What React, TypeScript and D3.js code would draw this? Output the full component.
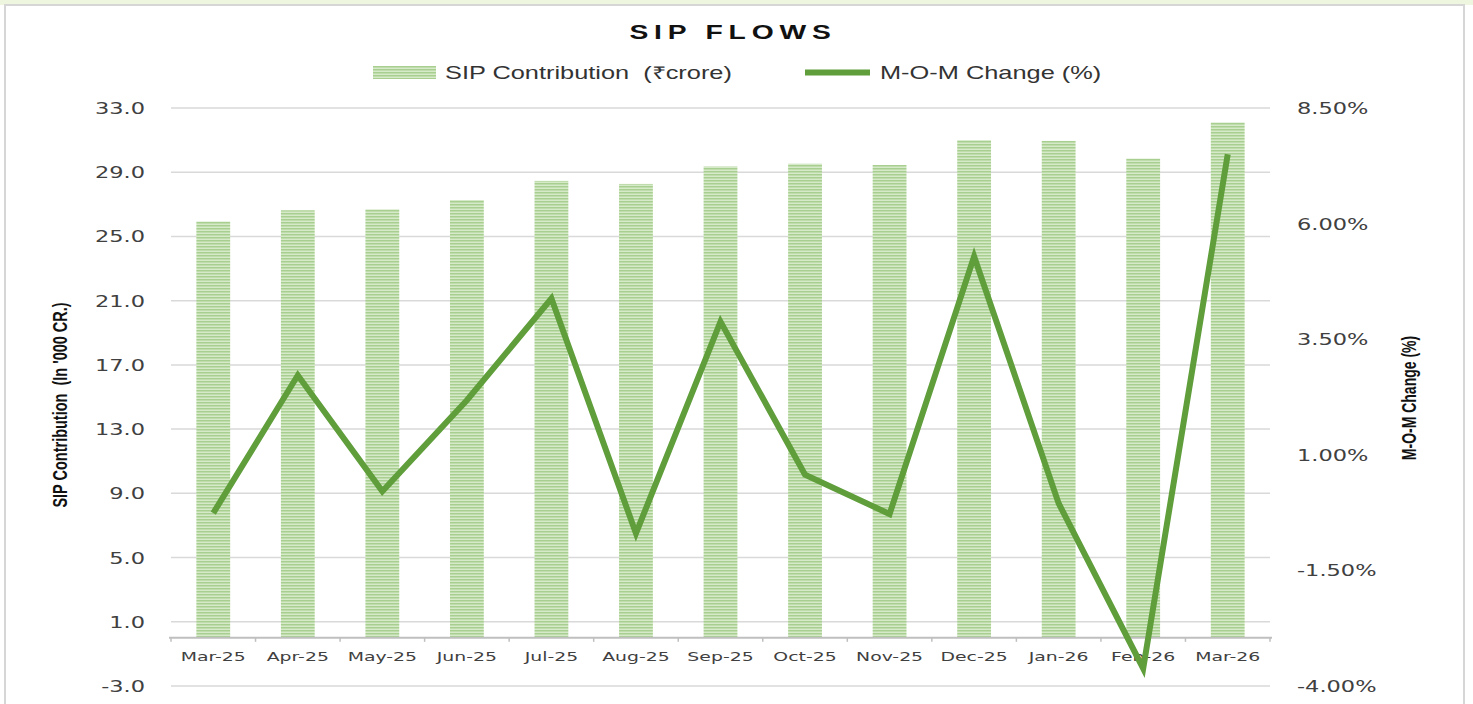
import React, { useEffect, useRef } from 'react';
import * as d3 from 'd3';

const months = ['Mar-25', 'Apr-25', 'May-25', 'Jun-25', 'Jul-25', 'Aug-25', 'Sep-25', 'Oct-25', 'Nov-25', 'Dec-25', 'Jan-26', 'Feb-26', 'Mar-26'];
const sipContribution = [25.93, 26.63, 26.69, 27.27, 28.46, 28.27, 29.36, 29.53, 29.45, 31.0, 30.95, 29.85, 32.1];
const momChange = [-0.26, 2.72, 0.21, 2.18, 4.38, -0.7, 3.88, 0.57, -0.28, 5.29, -0.05, -3.62, 7.5];
const leftTicks = [-3, 1, 5, 9, 13, 17, 21, 25, 29, 33];
const rightTicks = [-4, -1.5, 1, 3.5, 6, 8.5];

const W = 1473;
const H = 704;
const SX = 1.45; // the picture is stretched sideways, so text glyphs are too

export default function App() {
  const svgRef = useRef<SVGSVGElement>(null);

  useEffect(() => {
    const svg = d3.select(svgRef.current);
    svg.selectAll('*').remove();

    const left = 171;
    const right = 1270;
    const top = 108;
    const bottom = 686;

    // frame
    svg.append('rect').attr('x', 0).attr('y', 0).attr('width', W).attr('height', 5).attr('fill', '#eef6df');
    svg.append('rect').attr('x', 5).attr('y', 5).attr('width', 1459).attr('height', H + 10)
      .attr('fill', '#fff').attr('stroke', '#d6d6d6').attr('stroke-width', 2);

    // stripe pattern for the bars
    const defs = svg.append('defs');
    const pat = defs.append('pattern').attr('id', 'stripes').attr('patternUnits', 'userSpaceOnUse')
      .attr('width', 8).attr('height', 3);
    pat.append('rect').attr('width', 8).attr('height', 3).attr('fill', '#d6eac9');
    pat.append('rect').attr('width', 8).attr('height', 1.5).attr('fill', '#a8cf90');

    const x = d3.scaleBand<string>().domain(months).range([left, right]).paddingInner(0.6).paddingOuter(0.3);
    const step = x.step();
    const yL = d3.scaleLinear().domain([-3, 33]).range([bottom, top]);
    const yR = d3.scaleLinear().domain([-4, 8.5]).range([bottom, top]);

    const txt = (g: any, tx: number, ty: number, s: string, rot = 0) =>
      g.append('text')
        .attr('transform', `translate(${tx},${ty}) scale(${SX},1)${rot ? ` rotate(${rot})` : ''}`)
        .style('white-space', 'pre')
        .text(s);

    // grid
    svg.append('g').selectAll('line').data(leftTicks).join('line')
      .attr('x1', left).attr('x2', right)
      .attr('y1', (d) => yL(d)).attr('y2', (d) => yL(d))
      .attr('stroke', '#d9d9d9').attr('stroke-width', 1.5);

    // bars
    svg.append('g').selectAll('rect').data(months).join('rect')
      .attr('x', (d) => x(d)!)
      .attr('width', x.bandwidth())
      .attr('y', (_, i) => yL(sipContribution[i]))
      .attr('height', (_, i) => yL(0) - yL(sipContribution[i]))
      .attr('fill', 'url(#stripes)');

    // category axis at zero
    const axisY = yL(0);
    svg.append('line').attr('x1', left - 2).attr('x2', right + 2).attr('y1', axisY).attr('y2', axisY)
      .attr('stroke', '#bfbfbf').attr('stroke-width', 2);
    svg.append('g').selectAll('line').data(d3.range(months.length + 1)).join('line')
      .attr('x1', (i) => left + i * step).attr('x2', (i) => left + i * step)
      .attr('y1', axisY).attr('y2', axisY + 4)
      .attr('stroke', '#bfbfbf').attr('stroke-width', 1.5);

    const catG = svg.append('g').attr('font-family', 'DejaVu Sans, Verdana, sans-serif')
      .attr('font-size', 13).attr('fill', '#404040').attr('text-anchor', 'middle');
    months.forEach((m) => txt(catG, x(m)! + x.bandwidth() / 2, 661, m));

    // left ticks
    const lG = svg.append('g').attr('font-family', 'DejaVu Sans, Verdana, sans-serif')
      .attr('font-size', 15.5).attr('fill', '#404040').attr('text-anchor', 'end');
    leftTicks.forEach((t) => txt(lG, 145, yL(t) + 6, t.toFixed(1)));

    // right ticks
    const rG = svg.append('g').attr('font-family', 'DejaVu Sans, Verdana, sans-serif')
      .attr('font-size', 15.5).attr('fill', '#404040').attr('text-anchor', 'start');
    rightTicks.forEach((t) => txt(rG, 1297, yR(t) + 6, `${t.toFixed(2)}%`));

    // line
    const line = d3.line<number>()
      .x((_, i) => x(months[i])! + x.bandwidth() / 2)
      .y((d) => yR(d));
    svg.append('path').datum(momChange).attr('d', line)
      .attr('fill', 'none').attr('stroke', '#5f9e3b').attr('stroke-width', 6)
      .attr('stroke-linejoin', 'miter').attr('stroke-miterlimit', 10);

    // axis titles
    const aG = svg.append('g').attr('font-family', 'Liberation Sans, Arial, sans-serif')
      .attr('font-weight', 'bold').attr('fill', '#111').attr('text-anchor', 'middle');
    txt(aG, 67, 405, "SIP Contribution  (In '000 CR.)", -90).attr('font-size', 14.5);
    txt(aG, 1416, 398, 'M-O-M Change (%)', -90).attr('font-size', 14);

    // title
    svg.append('text')
      .attr('transform', `translate(733,39) scale(${SX},1)`)
      .attr('text-anchor', 'middle').attr('font-family', 'Liberation Sans, Arial, sans-serif')
      .attr('font-size', 19.5).attr('font-weight', 'bold').attr('letter-spacing', 4).attr('fill', '#111')
      .text('SIP FLOWS');

    // legend
    const lgG = svg.append('g').attr('font-family', 'Liberation Sans, Arial, sans-serif')
      .attr('font-size', 17.5).attr('fill', '#333');
    lgG.append('rect').attr('x', 373).attr('y', 66).attr('width', 63).attr('height', 13).attr('fill', 'url(#stripes)');
    txt(lgG, 445, 79, 'SIP Contribution  (₹crore)');
    lgG.append('line').attr('x1', 805).attr('x2', 870).attr('y1', 72.5).attr('y2', 72.5)
      .attr('stroke', '#5f9e3b').attr('stroke-width', 6);
    txt(lgG, 880, 79, 'M-O-M Change (%)');
  }, []);

  return (
    <div style={{ position: 'absolute', left: 0, top: 0 }}>
      <svg ref={svgRef} width={W} height={H} style={{ display: 'block' }} />
    </div>
  );
}
